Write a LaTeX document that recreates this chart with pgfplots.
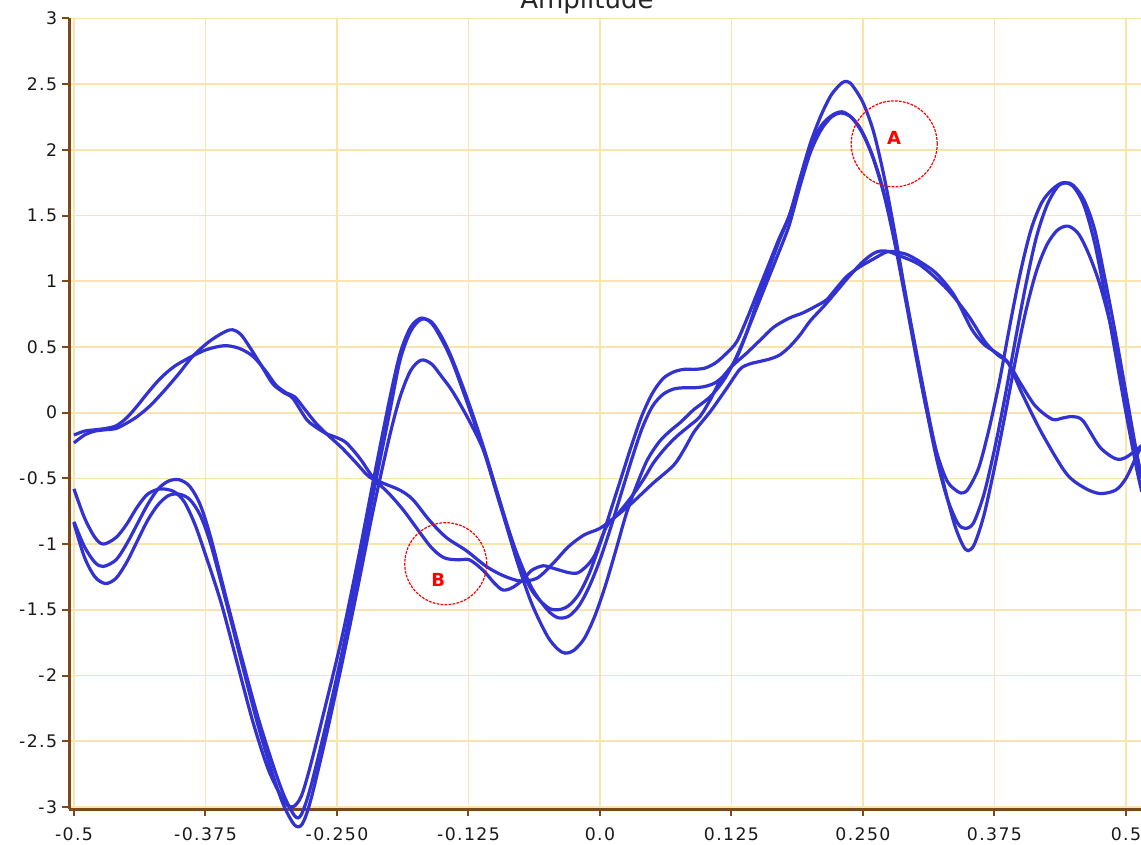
\documentclass[border=0pt]{standalone}
\usepackage{pgfplots}
\pgfplotsset{compat=1.18}
\usepackage{fontspec}
\setmainfont{DejaVu Sans}
\newfontfamily\tickfont{DejaVu Sans}[LetterSpace=8]
\definecolor{axbrown}{RGB}{128,72,22}
\definecolor{gridyel}{RGB}{250,228,172}
\definecolor{wave}{RGB}{50,50,210}
\begin{document}
\begin{tikzpicture}
\begin{axis}[
    x=26.3cm, y=3.285cm,
    xmin=-0.5047, xmax=0.5143,
    ymin=-3.016, ymax=3,
    axis x line=bottom, axis y line=left,
    axis line style={-, axbrown, line width=0.075cm},
    xtick={-0.5,-0.375,-0.25,-0.125,0,0.125,0.25,0.375,0.5},
    xticklabels={-0.5,-0.375,-0.250,-0.125,0.0,0.125,0.250,0.375,0.5},
    ytick={-3,-2.5,-2,-1.5,-1,-0.5,0,0.5,1,1.5,2,2.5,3},
    yticklabels={-3,-2.5,-2,-1.5,-1,-0.5,0,0.5,1,1.5,2,2.5,3},
    tick align=outside,
    major tick length=0.175cm,
    tick style={axbrown, line width=0.05cm},
    grid=major,
    major grid style={gridyel, line width=0.045cm},
    ticklabel style={font=\tickfont\fontsize{12.3}{13}\selectfont, text=black!90},
    xticklabel style={yshift=-0.17cm},
    clip=false,
    wv/.style={wave, line width=0.08cm, smooth, tension=0.5, mark=none},
]

% high-amplitude traces
\addplot[wv] coordinates {
(-0.5,-0.58) (-0.49,-0.80) (-0.48,-0.95) (-0.472,-1.0) (-0.46,-0.95) (-0.45,-0.85)
(-0.44,-0.72) (-0.43,-0.62) (-0.418,-0.58) (-0.405,-0.60) (-0.395,-0.68) (-0.385,-0.85)
(-0.375,-1.08) (-0.36,-1.45) (-0.345,-1.90) (-0.33,-2.35) (-0.315,-2.72) (-0.30,-2.96)
(-0.292,-3.00) (-0.284,-2.92) (-0.275,-2.68) (-0.26,-2.20) (-0.245,-1.70) (-0.23,-1.12)
(-0.215,-0.50) (-0.20,0.10) (-0.19,0.45) (-0.18,0.65) (-0.17,0.72) (-0.16,0.68)
(-0.15,0.55) (-0.14,0.38) (-0.125,0.05) (-0.11,-0.30) (-0.095,-0.70) (-0.08,-1.08)
(-0.065,-1.35) (-0.05,-1.48) (-0.04,-1.50) (-0.03,-1.47) (-0.02,-1.38) (-0.01,-1.22)
(0.0,-1.0) (0.01,-0.75) (0.02,-0.50) (0.03,-0.25) (0.04,-0.02) (0.05,0.15)
(0.06,0.26) (0.07,0.31) (0.08,0.33) (0.09,0.33) (0.10,0.34) (0.11,0.38)
(0.12,0.45) (0.13,0.54) (0.14,0.72) (0.15,0.92) (0.16,1.12) (0.17,1.32)
(0.18,1.50) (0.19,1.75) (0.20,2.02) (0.21,2.18) (0.22,2.26) (0.23,2.29)
(0.24,2.24) (0.25,2.12) (0.26,1.93) (0.27,1.66) (0.28,1.30) (0.29,0.88)
(0.30,0.45) (0.31,0.04) (0.32,-0.30) (0.33,-0.52) (0.34,-0.60) (0.345,-0.61)
(0.35,-0.58) (0.36,-0.42) (0.37,-0.12) (0.38,0.25) (0.39,0.68) (0.40,1.08)
(0.41,1.40) (0.42,1.60) (0.43,1.70) (0.44,1.75) (0.45,1.72) (0.46,1.58)
(0.47,1.30) (0.48,0.90) (0.49,0.45) (0.50,0.0) (0.51,-0.42) (0.515,-0.6)
};
\addplot[wv] coordinates {
(-0.5,-0.83) (-0.49,-1.02) (-0.48,-1.14) (-0.472,-1.17) (-0.46,-1.12) (-0.45,-1.0)
(-0.44,-0.85) (-0.43,-0.70) (-0.42,-0.58) (-0.41,-0.52) (-0.40,-0.51) (-0.39,-0.56)
(-0.38,-0.70) (-0.37,-0.95) (-0.355,-1.42) (-0.34,-1.88) (-0.325,-2.32) (-0.31,-2.70)
(-0.30,-2.92) (-0.29,-3.07) (-0.284,-3.06) (-0.275,-2.85) (-0.26,-2.36) (-0.245,-1.82)
(-0.23,-1.22) (-0.215,-0.60) (-0.20,0.0) (-0.19,0.40) (-0.18,0.62) (-0.17,0.71)
(-0.16,0.69) (-0.15,0.57) (-0.14,0.40) (-0.125,0.08) (-0.11,-0.28) (-0.095,-0.68)
(-0.08,-1.05) (-0.065,-1.33) (-0.05,-1.50) (-0.04,-1.56) (-0.03,-1.55) (-0.02,-1.47)
(-0.01,-1.32) (0.0,-1.12) (0.01,-0.88) (0.02,-0.62) (0.03,-0.36) (0.04,-0.12)
(0.05,0.05) (0.06,0.14) (0.07,0.18) (0.08,0.19) (0.09,0.19) (0.10,0.20)
(0.11,0.23) (0.12,0.30) (0.13,0.42) (0.14,0.62) (0.15,0.86) (0.16,1.08)
(0.17,1.30) (0.18,1.50) (0.19,1.78) (0.20,2.05) (0.21,2.26) (0.22,2.42)
(0.23,2.51) (0.235,2.52) (0.24,2.49) (0.25,2.36) (0.26,2.14) (0.27,1.80)
(0.28,1.38) (0.29,0.92) (0.30,0.46) (0.31,0.04) (0.32,-0.35) (0.33,-0.65)
(0.34,-0.84) (0.347,-0.88) (0.355,-0.84) (0.365,-0.62) (0.375,-0.28) (0.385,0.12)
(0.395,0.56) (0.405,0.98) (0.415,1.34) (0.425,1.58) (0.435,1.72) (0.443,1.75)
(0.45,1.73) (0.46,1.62) (0.47,1.40) (0.48,1.02) (0.49,0.60) (0.50,0.15)
(0.51,-0.30) (0.515,-0.5)
};
\addplot[wv] coordinates {
(-0.5,-0.84) (-0.49,-1.10) (-0.48,-1.25) (-0.47,-1.30) (-0.46,-1.26) (-0.45,-1.14)
(-0.44,-0.98) (-0.43,-0.82) (-0.42,-0.70) (-0.41,-0.63) (-0.40,-0.62) (-0.39,-0.66)
(-0.38,-0.78) (-0.37,-1.0) (-0.355,-1.45) (-0.34,-1.92) (-0.325,-2.38) (-0.31,-2.78)
(-0.30,-3.0) (-0.29,-3.14) (-0.283,-3.13) (-0.275,-2.95) (-0.26,-2.45) (-0.245,-1.90)
(-0.23,-1.32) (-0.215,-0.72) (-0.20,-0.18) (-0.19,0.12) (-0.18,0.32) (-0.17,0.40)
(-0.16,0.37) (-0.15,0.27) (-0.14,0.16) (-0.125,-0.05) (-0.11,-0.30) (-0.095,-0.68)
(-0.08,-1.10) (-0.065,-1.45) (-0.05,-1.70) (-0.04,-1.80) (-0.033,-1.83) (-0.025,-1.81)
(-0.015,-1.72) (-0.005,-1.55) (0.005,-1.32) (0.015,-1.05) (0.025,-0.77) (0.035,-0.55)
(0.045,-0.36) (0.0565,-0.22) (0.0665,-0.14) (0.077,-0.07) (0.0887,0.02) (0.1046,0.12)
(0.117,0.24) (0.127,0.38) (0.137,0.56) (0.15,0.82) (0.16,1.02) (0.17,1.22)
(0.18,1.43) (0.19,1.72) (0.20,1.98) (0.21,2.15) (0.22,2.25) (0.228,2.28)
(0.237,2.26) (0.247,2.17) (0.257,2.0) (0.267,1.76) (0.277,1.44) (0.287,1.04)
(0.297,0.62) (0.307,0.20) (0.317,-0.20) (0.327,-0.55) (0.337,-0.85) (0.345,-1.01)
(0.35,-1.05) (0.356,-1.00) (0.365,-0.78) (0.375,-0.42) (0.385,-0.02) (0.395,0.40)
(0.405,0.78) (0.415,1.08) (0.425,1.28) (0.435,1.39) (0.445,1.42) (0.455,1.36)
(0.465,1.20) (0.475,0.98) (0.485,0.68) (0.495,0.30) (0.505,-0.12) (0.515,-0.5)
};

% low-amplitude traces
\addplot[wv] coordinates {
(-0.5,-0.17) (-0.49,-0.14) (-0.48,-0.13) (-0.47,-0.12) (-0.46,-0.10) (-0.45,-0.04)
(-0.44,0.05) (-0.43,0.15) (-0.418,0.26) (-0.405,0.35) (-0.39,0.42) (-0.374,0.48)
(-0.357,0.51) (-0.343,0.49) (-0.33,0.43) (-0.318,0.32) (-0.308,0.21) (-0.298,0.15)
(-0.29,0.12) (-0.28,0.02) (-0.27,-0.08) (-0.26,-0.16) (-0.245,-0.27) (-0.232,-0.38)
(-0.219,-0.49) (-0.205,-0.54) (-0.19,-0.59) (-0.178,-0.66) (-0.162,-0.82) (-0.146,-0.95)
(-0.127,-1.05) (-0.108,-1.17) (-0.092,-1.24) (-0.076,-1.28) (-0.06,-1.26) (-0.045,-1.15)
(-0.03,-1.02) (-0.015,-0.93) (0.0,-0.88) (0.015,-0.79) (0.03,-0.69) (0.05,-0.54)
(0.07,-0.40) (0.08,-0.28) (0.09,-0.14) (0.105,0.01) (0.12,0.18) (0.133,0.33)
(0.142,0.37) (0.152,0.39) (0.162,0.41) (0.171,0.44) (0.18,0.50) (0.19,0.59)
(0.20,0.70) (0.215,0.83) (0.235,1.02) (0.25,1.15) (0.262,1.22) (0.272,1.23)
(0.283,1.20) (0.305,1.12) (0.33,0.94) (0.35,0.74) (0.366,0.54) (0.378,0.44)
(0.388,0.38) (0.40,0.22) (0.414,0.05) (0.43,-0.05) (0.44,-0.04) (0.449,-0.03)
(0.459,-0.06) (0.475,-0.26) (0.49,-0.35) (0.5,-0.34) (0.515,-0.25)
};
\addplot[wv] coordinates {
(-0.5,-0.23) (-0.49,-0.17) (-0.48,-0.14) (-0.47,-0.13) (-0.46,-0.12) (-0.45,-0.08)
(-0.44,-0.03) (-0.428,0.05) (-0.415,0.16) (-0.40,0.30) (-0.387,0.43) (-0.37,0.55)
(-0.352,0.63) (-0.342,0.60) (-0.333,0.50) (-0.322,0.36) (-0.311,0.22) (-0.30,0.15)
(-0.292,0.11) (-0.279,-0.05) (-0.27,-0.11) (-0.26,-0.16) (-0.25,-0.19) (-0.241,-0.23)
(-0.228,-0.35) (-0.215,-0.50) (-0.2,-0.62) (-0.187,-0.74) (-0.175,-0.87) (-0.162,-1.01)
(-0.153,-1.08) (-0.146,-1.11) (-0.135,-1.12) (-0.124,-1.12) (-0.111,-1.20) (-0.1,-1.30)
(-0.092,-1.35) (-0.083,-1.33) (-0.073,-1.27) (-0.065,-1.20) (-0.054,-1.165) (-0.044,-1.185)
(-0.028,-1.22) (-0.019,-1.21) (-0.006,-1.10) (0.006,-0.87) (0.016,-0.78) (0.03,-0.64)
(0.042,-0.50) (0.051,-0.38) (0.062,-0.27) (0.073,-0.18) (0.085,-0.10) (0.095,-0.03)
(0.105,0.10) (0.114,0.24) (0.125,0.35) (0.139,0.45) (0.152,0.55) (0.165,0.65)
(0.18,0.72) (0.193,0.76) (0.205,0.81) (0.2155,0.86) (0.225,0.95) (0.235,1.04)
(0.247,1.11) (0.26,1.17) (0.273,1.225) (0.283,1.22) (0.293,1.20) (0.308,1.13)
(0.321,1.05) (0.337,0.89) (0.353,0.64) (0.365,0.52) (0.376,0.46) (0.388,0.38)
(0.401,0.15) (0.42,-0.155) (0.443,-0.46) (0.46,-0.57) (0.475,-0.615) (0.49,-0.59)
(0.5,-0.5) (0.51,-0.33) (0.515,-0.25)
};

% marked regions A and B
\addplot[only marks, red, mark=o, mark size=1.075cm,
  mark options={line width=0.03cm, dash pattern=on 0.07cm off 0.03cm}]
  coordinates {(0.2797,2.046)};
\addplot[only marks, red, mark=o, mark size=1.025cm,
  mark options={line width=0.03cm, dash pattern=on 0.07cm off 0.03cm}]
  coordinates {(-0.1466,-1.149)};
\node[text=red, font=\bfseries\fontsize{12.8}{13}\selectfont] at (axis cs:0.2795,2.088) {A};
\node[text=red, font=\bfseries\fontsize{12.8}{13}\selectfont] at (axis cs:-0.1537,-1.273) {B};

\node[anchor=base, font=\fontsize{18.5}{20}\selectfont, text=black!85] at (axis cs:-0.0124,3.075) {Amplitude};

\coordinate (bl) at (axis cs:-0.5703,-3.2823);
\coordinate (tr) at (axis cs:0.5143,3.1408);
\end{axis}
\pgfresetboundingbox
\path[use as bounding box] (bl) rectangle (tr);
\end{tikzpicture}
\end{document}
